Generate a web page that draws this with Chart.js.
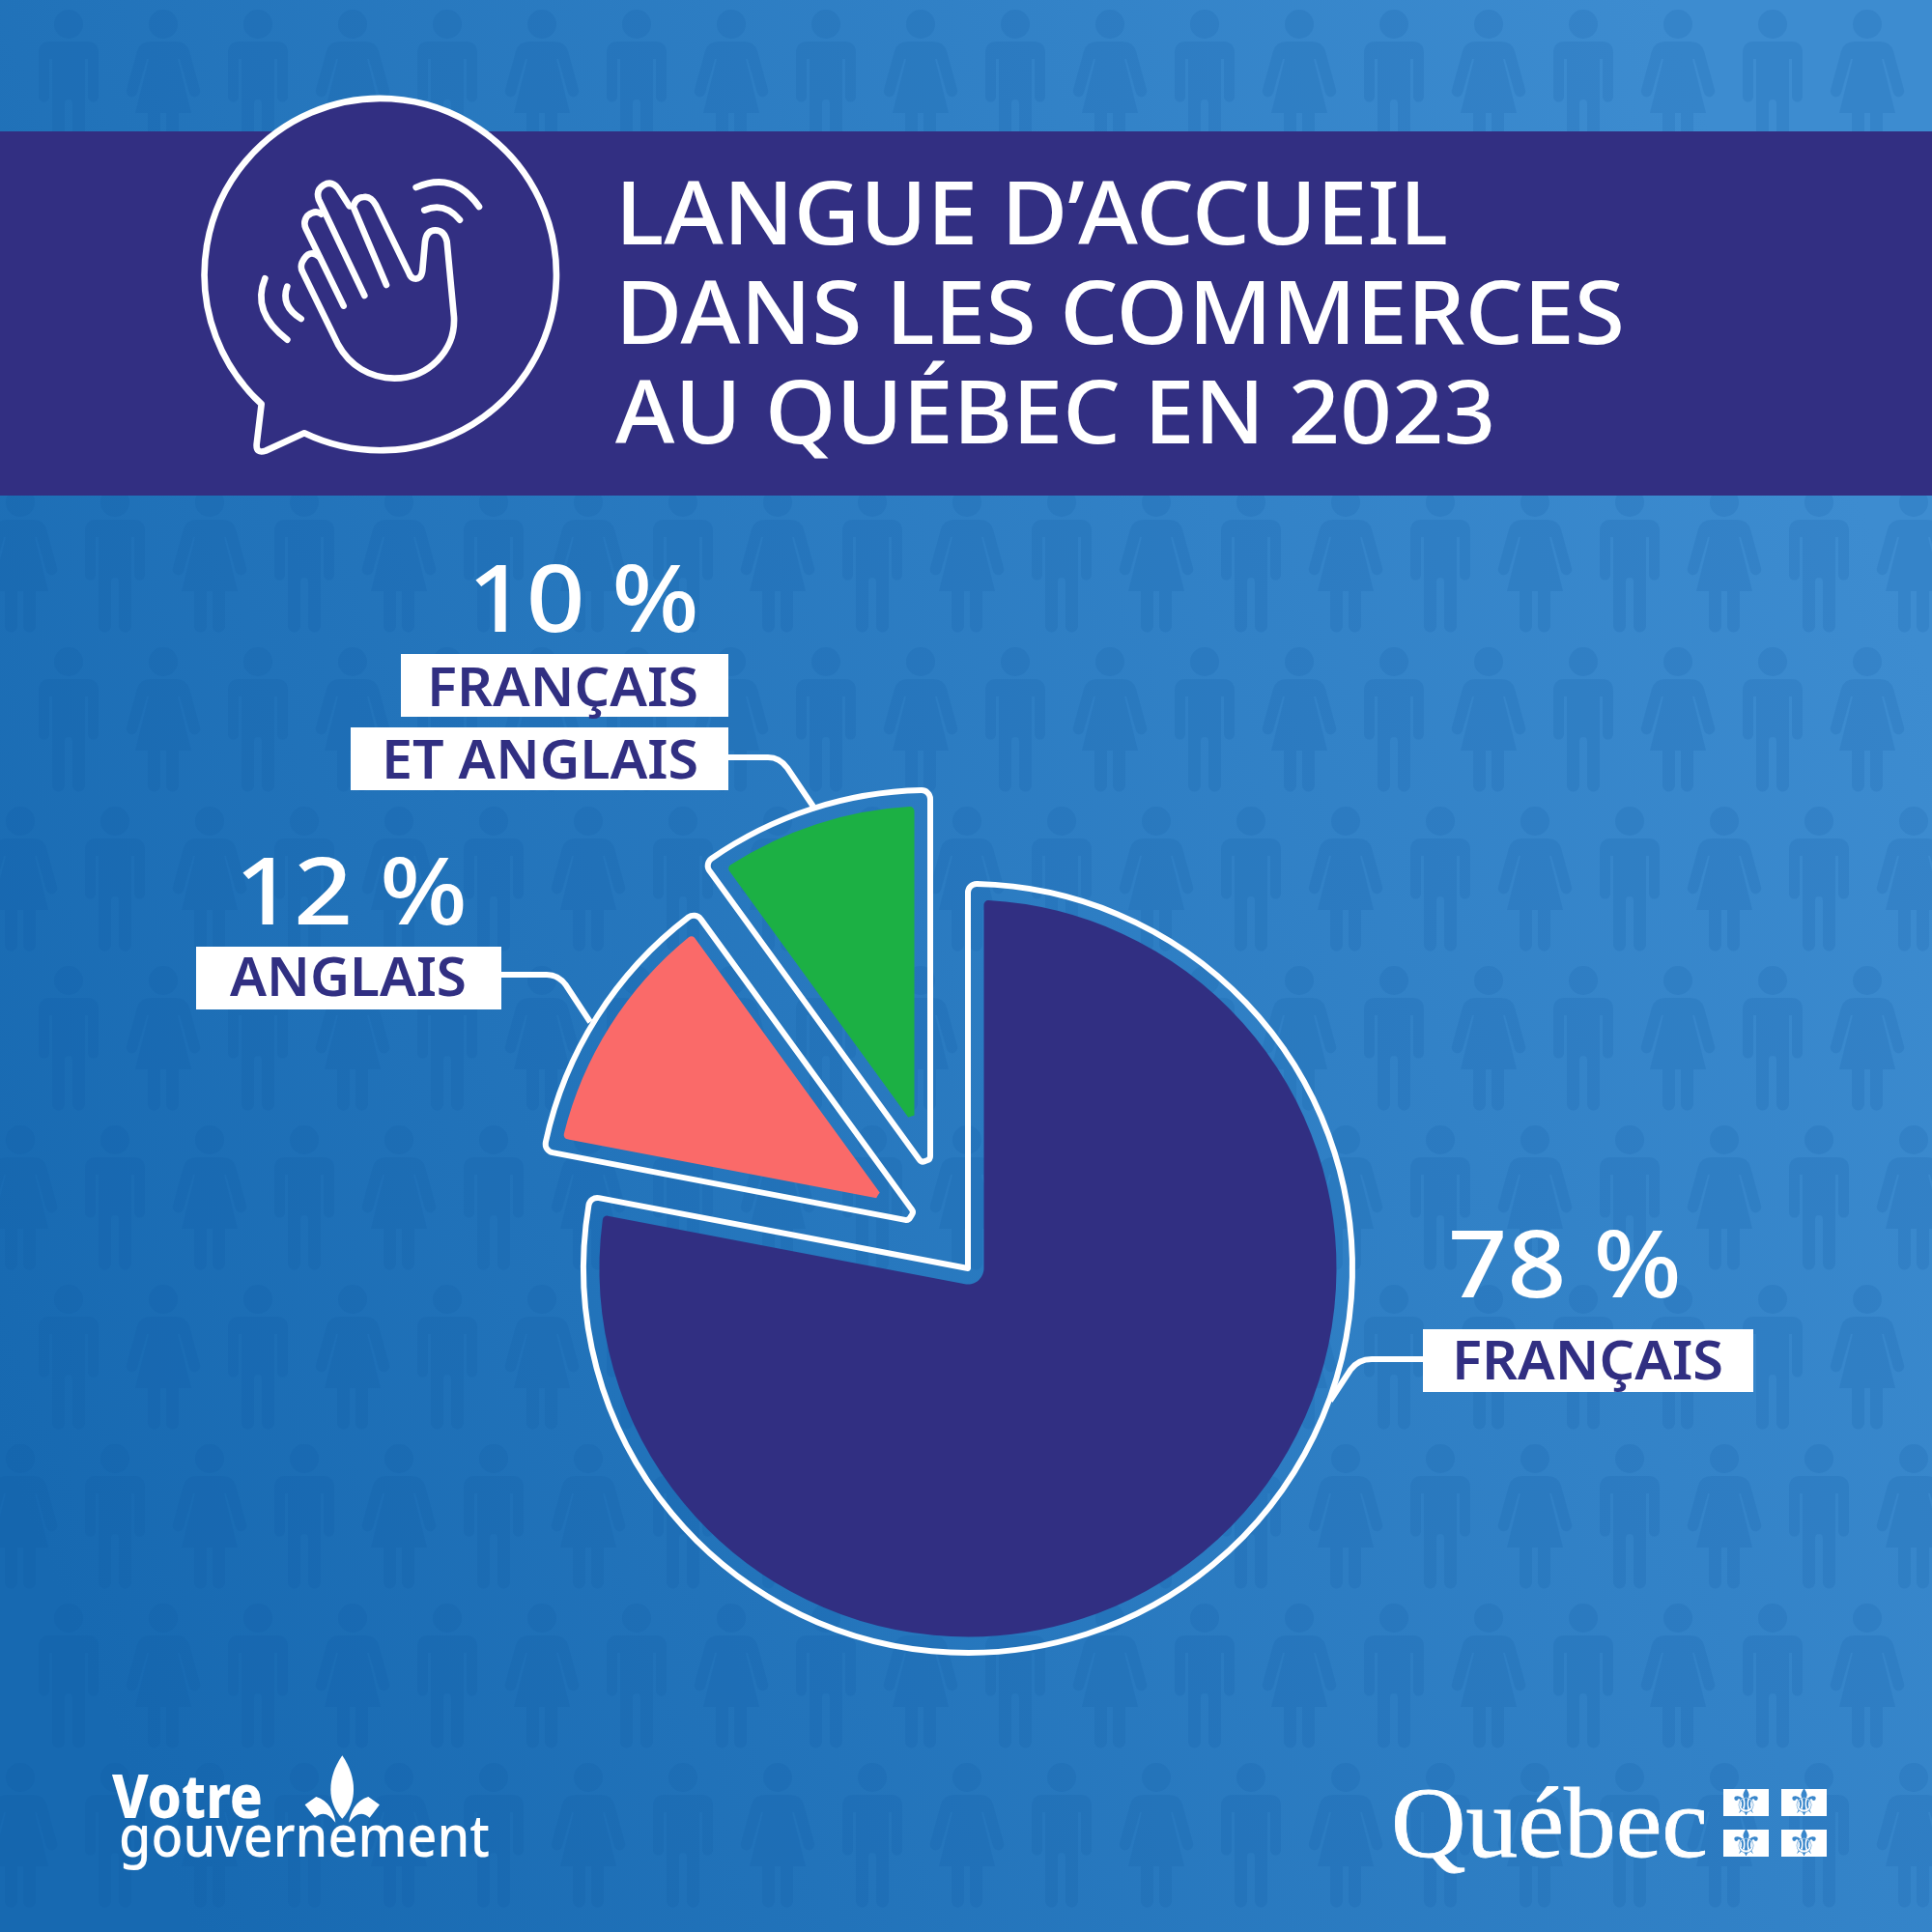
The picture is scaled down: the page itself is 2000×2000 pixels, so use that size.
<!DOCTYPE html>
<html lang="fr">
<head>
<meta charset="utf-8">
<title>Langue d'accueil dans les commerces au Québec en 2023</title>
<script src="https://cdn.jsdelivr.net/npm/chart.js@4/dist/chart.umd.min.js"></script>
<style>
    html, body { margin: 0; padding: 0; background: #2475bb; }
    #page { position: relative; width: 2000px; height: 2000px; overflow: hidden; }
    #page > svg { position: absolute; left: 0; top: 0; }
    #page > canvas { position: absolute; left: 403px; top: 714px; }
</style>
</head>
<body>
<div id="page">
    <svg id="back" width="2000" height="2000" xmlns="http://www.w3.org/2000/svg">
        <defs>
            <linearGradient id="bgGrad" gradientUnits="userSpaceOnUse" x1="0" y1="1500" x2="2000" y2="700">
                <stop offset="0" stop-color="#1769b1"/>
                <stop offset="1" stop-color="#3d8cd0"/>
            </linearGradient>
        </defs>
        <rect width="2000" height="2000" fill="url(#bgGrad)"/>
        <g id="people" fill="#0b5aa3" fill-opacity="0.15"></g>
    </svg>
    <canvas id="pieOutline" width="1200" height="1200"></canvas>
    <canvas id="pieFill" width="1200" height="1200"></canvas>
    <svg id="front" width="2000" height="2000" xmlns="http://www.w3.org/2000/svg">
        <rect y="136" width="2000" height="377" fill="#322f82"/>
        <!-- speech bubble and waving hand, traced at 3x -->
        <g transform="translate(180,80) scale(0.3333)" fill="none" stroke="#fff" stroke-width="20" stroke-linecap="round" stroke-linejoin="round">
            <path fill="#322f82" d="M272 1015 L257 1140 Q255 1170 285 1160 L405 1105 A546.5 546.5 0 1 0 272 1015 Z"/>
            <path d="M452 558 Q420 530 398 575 Q392 590 400 605 L510 830 C545 895 610 935 685 935 C790 935 875 850 870 745 L848 510 Q840 475 812 475 Q785 475 780 510 L772 600 Q768 630 745 625 Q735 622 730 608 L628 398 Q612 368 590 372 Q565 372 557 402 L660 645"/>
            <path d="M545 400 L510 345 Q490 320 465 335 Q440 350 450 380 L592 678"/>
            <path d="M458 425 Q440 410 415 430 Q400 450 410 470 L527 710"/>
            <path d="M752 342 Q870 290 948 402"/>
            <path d="M778 413 Q840 385 888 443"/>
            <path d="M283 625 Q240 730 352 815"/>
            <path d="M352 650 Q330 710 395 750"/>
        </g>
        <g id="title" fill="#fff" font-family="'Noto Sans'" font-size="91" font-weight="500"></g>
        <!-- leader lines from the boxes to the slices -->
        <g fill="none" stroke="#fff" stroke-width="6">
            <path d="M1473 1407 H1420 Q1406 1407 1398 1418 L1377 1450"/>
            <path d="M519 1009 H566 Q578 1009 586 1020 L611 1058"/>
            <path d="M754 784 H795 Q807 784 815 795 L842 835"/>
        </g>
        <g id="labels"></g>
        <!-- footer, left -->
        <g fill="#fff" font-family="'Noto Sans'">
            <text x="116" y="1882" font-size="62" font-weight="800" textLength="156" lengthAdjust="spacingAndGlyphs">Votre</text>
            <text x="123" y="1922" font-size="60" font-weight="500" textLength="384" lengthAdjust="spacingAndGlyphs">gouvernement</text>
            <g transform="translate(90,1780) scale(0.3333)">
                <path d="M793 112 C745 180 745 260 793 308 C840 260 840 180 793 112 Z"/>
                <path d="M677 265 L712 240 C750 250 770 290 772 320 C750 290 730 285 708 305 Z"/>
                <path d="M909 265 L874 240 C836 250 816 290 814 320 C836 290 856 285 878 305 Z"/>
            </g>
        </g>
        <!-- footer, right -->
        <text x="1440" y="1922" fill="#fff" stroke="#fff" stroke-width="0.8" font-family="'Liberation Serif'" font-size="104" textLength="328" lengthAdjust="spacingAndGlyphs">Québec</text>
        <g id="flag" font-family="'DejaVu Sans'" font-size="38" text-anchor="middle" fill="#3886cb"></g>
    </svg>
</div>
<script>
// Data
const categories = ['FRANÇAIS', 'ANGLAIS', 'FRANÇAIS ET ANGLAIS'];
const shares = [78, 12, 10];
const sliceColors = ['#312f82', '#fa6a69', '#1cb044'];
const titleLines = ['LANGUE D’ACCUEIL', 'DANS LES COMMERCES', 'AU QUÉBEC EN 2023'];

// Pie layout (pixels)
const pieRadius = 398;
const sliceShift = [[-1, -1], [-49, -48], [-40, -98]]; // how far each slice is pulled out
const outlineTip = [0, 13, 15];
const fillTip = [0, 37, 47];
const fillInset = 16.5; // gap between the white outline and the coloured fill

// Label layout: x, baseline and width of the number, then one row per box line
const labelLayout = [
    { num: [1499, 1343, 242], rows: [[1473, 1376, 342, 65, 1503, 1428, 281, 'FRANÇAIS']] },
    { num: [243, 957, 241], rows: [[203, 980, 316, 65, 238, 1031, 245, 'ANGLAIS']] },
    { num: [484, 654, 240], rows: [[415, 677, 339, 65, 442, 731, 281, 'FRANÇAIS'], [363, 753, 391, 65, 395, 806, 328, 'ET ANGLAIS']] }
];

const svgNS = 'http://www.w3.org/2000/svg';

// Helper function to add an svg element
function addSvg(parent, tag, attrs, text) {
    const el = document.createElementNS(svgNS, tag);
    Object.keys(attrs).forEach(k => el.setAttribute(k, attrs[k]));
    if (text) el.textContent = text;
    parent.appendChild(el);
    return el;
}

// Background figures, rows alternate and are shifted half a step
const manPath = 'M-15 0a15 15 0 1 0 30 0a15 15 0 1 0-30 0Z M-31 30Q-31 18-19 18H19Q31 18 31 30V75a5.5 5.5 0 0 1-11 0V36H17V128a6.5 6.5 0 0 1-13 0V82a4 4 0 0 0-8 0V128a6.5 6.5 0 0 1-13 0V36H-20V75a5.5 5.5 0 0 1-11 0Z';
const womanPath = 'M-15 0a15 15 0 1 0 30 0a15 15 0 1 0-30 0Z M-13 18H13Q24 18 27 28L38 68a5.5 5.5 0 0 1-11 3L17 36H15L29 92H16V128a6.5 6.5 0 0 1-13 0V92H-3V128a6.5 6.5 0 0 1-13 0V92H-29L-15 36H-17L-27 71a5.5 5.5 0 0 1-11-3L-27 28Q-24 18-13 18Z';
const people = document.getElementById('people');
for (let row = 0; row < 12; row++) {
    const y = 25 + row * 165;
    const startX = row % 2 === 0 ? 71 : 21;
    for (let k = 0; k < 21; k++) {
        const x = startX + k * 98;
        const isMan = (k % 2 === 0) === (row % 2 === 0);
        addSvg(people, 'path', { d: isMan ? manPath : womanPath, transform: `translate(${x},${y})` });
    }
}

// Title
const titleX = 637;
const titleBase = [253, 356, 459];
const titleWidth = [862, 1045, 911];
titleLines.forEach((line, i) => {
    addSvg(document.getElementById('title'), 'text', { x: titleX, y: titleBase[i], textLength: titleWidth[i], lengthAdjust: 'spacingAndGlyphs' }, line);
});

// Percentages and white label boxes
const labels = document.getElementById('labels');
labelLayout.forEach((lab, i) => {
    addSvg(labels, 'text', {
        x: lab.num[0], y: lab.num[1], textLength: lab.num[2], lengthAdjust: 'spacingAndGlyphs',
        fill: '#fff', 'font-family': "'Noto Sans'", 'font-size': 97, 'font-weight': 500
    }, shares[i] + ' %');
    lab.rows.forEach(r => {
        addSvg(labels, 'rect', { x: r[0], y: r[1], width: r[2], height: r[3], fill: '#fff' });
        addSvg(labels, 'text', {
            x: r[4], y: r[5], textLength: r[6], lengthAdjust: 'spacingAndGlyphs',
            fill: '#312f82', 'font-family': "'Noto Sans'", 'font-size': 56, 'font-weight': 600
        }, r[7]);
    });
});

// Quebec flag squares
const flag = document.getElementById('flag');
[[1784, 1852], [1844, 1852], [1784, 1894], [1844, 1894]].forEach(p => {
    addSvg(flag, 'rect', { x: p[0], y: p[1], width: 47, height: 28, fill: '#fff' });
    addSvg(flag, 'text', { x: p[0] + 23.5, y: p[1] + 27 }, '\u269C');
});

// Moves each slice out of the pie and gives the small ones a rounded tip
function slicePlacer(tips) {
    return {
        id: 'slicePlacer',
        beforeDatasetDraw(chart) {
            const cx = chart.width / 2;
            const cy = chart.height / 2;
            chart.getDatasetMeta(0).data.forEach((arc, i) => {
                arc.x = cx + sliceShift[i][0];
                arc.y = cy + sliceShift[i][1];
                arc.innerRadius = tips[i];
            });
        }
    };
}

function makePie(canvasId, tips, dataset) {
    return new Chart(document.getElementById(canvasId), {
        type: 'pie',
        data: {
            labels: categories,
            datasets: [Object.assign({ data: shares, borderJoinStyle: 'round' }, dataset)]
        },
        options: {
            responsive: false,
            animation: false,
            radius: pieRadius,
            layout: { padding: 0 },
            plugins: { legend: { display: false }, tooltip: { enabled: false } }
        },
        plugins: [slicePlacer(tips)]
    });
}

// White outline
makePie('pieOutline', outlineTip, {
    backgroundColor: 'rgba(0,0,0,0)',
    borderColor: '#ffffff',
    borderWidth: 6,
    borderRadius: { outerStart: 9, outerEnd: 9, innerStart: 6, innerEnd: 6 }
});

// Coloured fill: same slices, the border erases a band along the outline so
// that the background stays visible between fill and outline
const fillCtx = document.getElementById('pieFill').getContext('2d');
fillCtx.stroke = function () {
    this.globalCompositeOperation = 'destination-out';
    CanvasRenderingContext2D.prototype.stroke.call(this);
    this.globalCompositeOperation = 'source-over';
};
makePie('pieFill', fillTip, {
    backgroundColor: sliceColors,
    borderColor: '#000000',
    borderWidth: fillInset * 2,
    borderRadius: { outerStart: 21, outerEnd: 21, innerStart: 6, innerEnd: 6 }
});
</script>
</body>
</html>
